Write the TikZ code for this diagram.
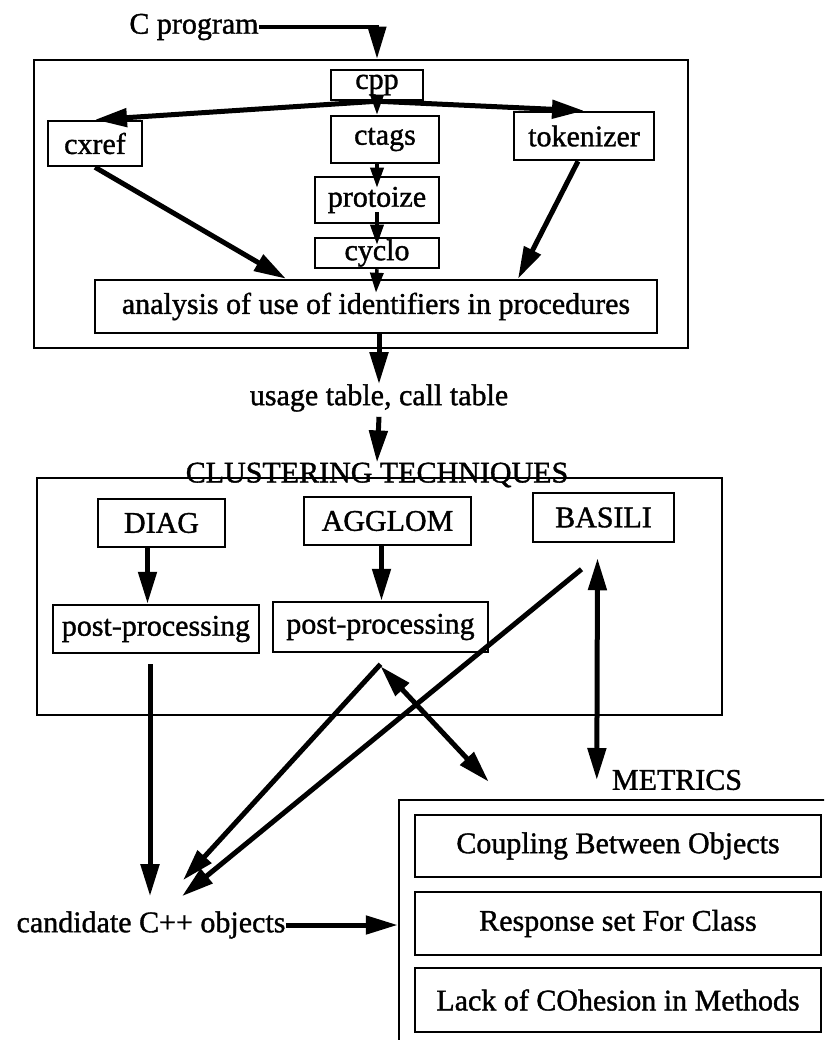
\documentclass[tikz,border=0pt]{standalone}
\usepackage{fontspec}
\setmainfont{Liberation Serif}[FakeBold=1.2]
\usetikzlibrary{arrows.meta}

\begin{document}
\begin{tikzpicture}[
  x=1pt,y=-1pt,
  >={Triangle[length=32pt,width=18pt]},
  every node/.style={font=\fontsize{30}{36}\selectfont,inner sep=0pt},
  tool box/.style={rectangle,draw,line width=2.5pt},
  group box/.style={rectangle,draw,line width=2.5pt},
  flow/.style={->,line width=5pt},
  thin flow/.style={->,line width=3.5pt,>={Triangle[length=20pt,width=13pt]}},
  both flow/.style={<->,line width=5pt},
]
\useasboundingbox (0,0) rectangle (824,1040);
\clip (0,0) rectangle (824,1040);
\node (prog) at (194,27) {C program};
\node[group box,minimum width=654pt,minimum height=288pt] (prepbox) at (361,204) {};
\node[tool box,minimum width=92pt,minimum height=30pt] (cpp) at (377,85) {cpp};
\node[tool box,minimum width=94pt,minimum height=45pt] (cxref) at (95,143.5) {cxref};
\node[tool box,minimum width=108pt,minimum height=47pt] (ctags) at (385,139.5) {ctags};
\node[tool box,minimum width=140pt,minimum height=48pt] (tokenizer) at (584,136) {tokenizer};
\node[tool box,minimum width=124pt,minimum height=46pt] (protoize) at (377,200) {protoize};
\node[tool box,minimum width=124pt,minimum height=30pt] (cyclo) at (377,253) {cyclo};
\node[tool box,minimum width=562pt,minimum height=53pt] (analysis) at (376,306.5) {analysis of use of identifiers in procedures};
\node (usage) at (379,398) {usage table, call table};
\node (title) at (377,475) {CLUSTERING TECHNIQUES};
\node[group box,minimum width=685pt,minimum height=237pt] (clusterbox) at (379.5,596.5) {};
\node[tool box,minimum width=127pt,minimum height=48pt] (DIAG) at (161.5,523) {DIAG};
\node[tool box,minimum width=167pt,minimum height=48pt] (AGGLOM) at (387.5,521) {AGGLOM};
\node[tool box,minimum width=141pt,minimum height=49pt] (BASILI) at (603.5,517.5) {BASILI};
\node[tool box,minimum width=206pt,minimum height=48pt] (post1) at (156,629) {post-processing};
\node[tool box,minimum width=215pt,minimum height=50pt] (post2) at (380.5,627) {post-processing};
\node (candidate) at (151,925) {candidate C++ objects};
\node (metrictitle) at (677,780) {METRICS};
\node[group box,minimum width=451pt,minimum height=270pt] (metricsbox) at (624.5,935) {};
\node[tool box,minimum width=406pt,minimum height=62pt] (CBO) at (618,846) {Coupling Between Objects};
\node[tool box,minimum width=406pt,minimum height=63pt] (RFC) at (618,923.5) {Response set For Class};
\node[tool box,minimum width=406pt,minimum height=64pt] (LCOM) at (618,1000) {Lack of COhesion in Methods};
\draw[flow,line width=4pt] (prog.east) -| (prepbox.north -| cpp.north);
\draw[flow] (cpp.south) -- (cxref.north);
\draw[flow] (cpp.south) -- (tokenizer.north);
\draw[thin flow] (cpp.south) -- (cpp.south |- ctags.north);
\draw[thin flow] (ctags.south -| cpp.south) -- ([yshift=-12pt]protoize.north);
\draw[thin flow] ([yshift=12pt]protoize.south) -- ([yshift=-8pt]cyclo.north);
\draw[thin flow] (cyclo.south) -- ([yshift=-14pt]analysis.north);
\draw[flow] (cxref.south) -- ([xshift=-90pt]analysis.north);
\draw[flow] ([xshift=-6pt]tokenizer.south) -- ([xshift=142pt]analysis.north);
\draw[flow] (usage.north |- analysis.south) -- (usage.north);
\draw[flow] ([yshift=-5pt]usage.south) -- (title.north);
\draw[flow] ([xshift=-14pt]DIAG.south) -- ([xshift=-14pt]DIAG.south |- post1.north);
\draw[flow] ([xshift=-6pt]AGGLOM.south) -- ([xshift=-6pt]AGGLOM.south |- post2.north);
\draw[flow] ([xshift=-6pt,yshift=-10pt]post1.south) -- ([xshift=-1pt,yshift=15pt]candidate.north);
\draw[flow] ([yshift=-11pt]post2.south) -- ([xshift=32pt,yshift=31pt]candidate.north);
\draw[flow] ([xshift=-22pt,yshift=-26pt]BASILI.south) -- ([xshift=31pt,yshift=15pt]candidate.north);
\draw[both flow] ([yshift=-13pt]post2.south) -- ([xshift=91pt,yshift=17pt]metricsbox.north west);
\draw[both flow] ([xshift=-6pt,yshift=-15pt]BASILI.south) -- ([xshift=-15pt]metrictitle.west);
\draw[flow] (candidate.east) -- (candidate.east -| metricsbox.west);
\end{tikzpicture}
\end{document}
